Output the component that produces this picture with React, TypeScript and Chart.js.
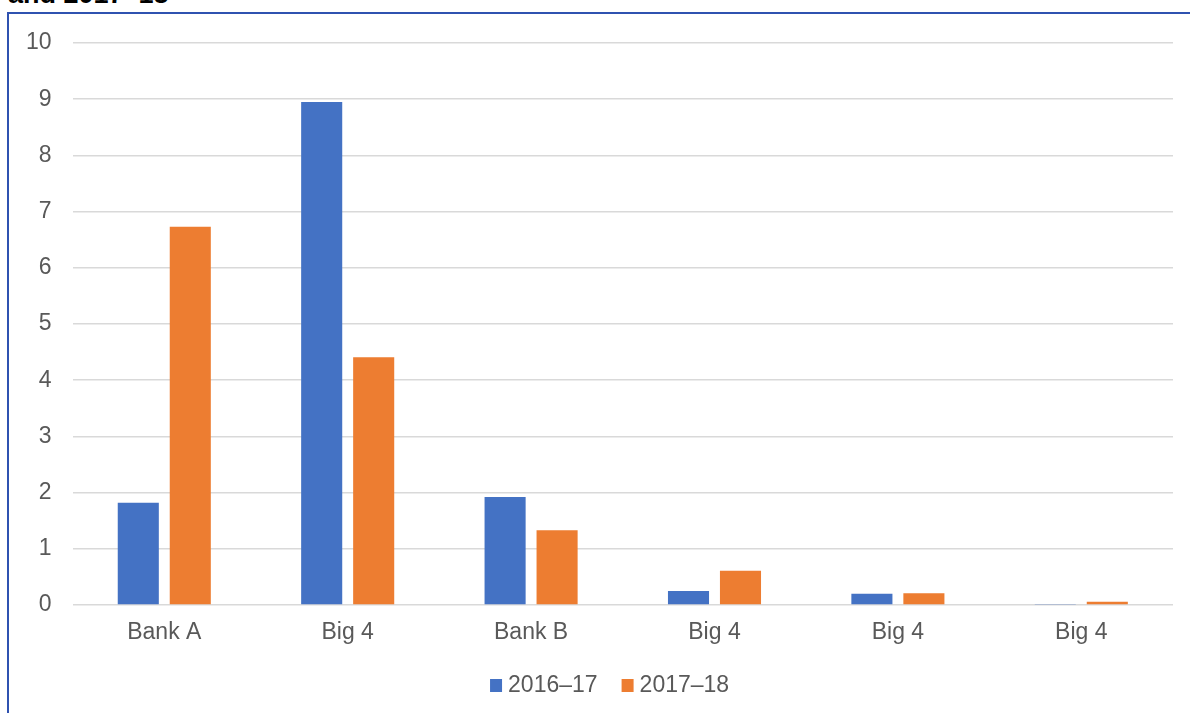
import React, { useEffect, useRef } from "react";
import { Chart, registerables } from "chart.js";

Chart.register(...registerables);

const categories = ["Bank A", "Big 4", "Bank B", "Big 4", "Big 4", "Big 4"];
const series2016 = [1.82, 8.95, 1.92, 0.25, 0.2, 0.02];
const series2017 = [6.73, 4.41, 1.33, 0.61, 0.21, 0.06];
const seriesLabels = ["2016–17", "2017–18"];
const seriesColors = ["#4472C4", "#ED7D31"];
const titleText = "and 2017–18";

const FONT = "'Liberation Sans', Arial, sans-serif";

const compactLegend = {
  id: "compactLegend",
  afterDraw(chart: any) {
    const ctx = chart.ctx as CanvasRenderingContext2D;
    const font = `23px ${FONT}`;
    ctx.save();
    ctx.font = font;
    const box = 12;
    const gap = 6;
    const itemGap = 24;
    const items = chart.data.datasets.map((ds: any) => ({
      text: ds.label as string,
      color: ds.backgroundColor as string,
      w: ctx.measureText(ds.label).width,
    }));
    const total =
      items.reduce((s: number, it: any) => s + box + gap + it.w, 0) + itemGap * (items.length - 1);
    const centerX = chart.chartArea.left + chart.chartArea.width * 0.488;
    const cy = chart.chartArea.bottom + 81;
    let x = centerX - total / 2;
    ctx.textBaseline = "middle";
    ctx.textAlign = "left";
    for (const it of items) {
      ctx.fillStyle = it.color;
      ctx.fillRect(x, cy - 7, box, 13);
      ctx.fillStyle = "#595959";
      ctx.fillText(it.text, x + box + gap, cy);
      x += box + gap + it.w + itemGap;
    }
    ctx.restore();
  },
};

export default function App() {
  const ref = useRef<HTMLCanvasElement | null>(null);

  useEffect(() => {
    if (!ref.current) return;
    const chart = new Chart(ref.current, {
      type: "bar",
      data: {
        labels: categories,
        datasets: [
          {
            label: seriesLabels[0],
            data: series2016,
            backgroundColor: seriesColors[0],
            categoryPercentage: 0.567,
            barPercentage: 0.79,
          },
          {
            label: seriesLabels[1],
            data: series2017,
            backgroundColor: seriesColors[1],
            categoryPercentage: 0.567,
            barPercentage: 0.79,
          },
        ],
      },
      options: {
        responsive: false,
        animation: false,
        devicePixelRatio: 1,
        layout: { padding: { left: 5, right: 17, top: 43, bottom: 63 } },
        scales: {
          x: {
            grid: { display: false, drawTicks: false },
            border: { display: false },
            ticks: { color: "#595959", font: { family: FONT, size: 23 }, padding: 14 },
            afterFit: (scale: any) => {
              scale.height = 45;
            },
          },
          y: {
            min: 0,
            max: 10,
            ticks: { stepSize: 1, color: "#595959", font: { family: FONT, size: 23 }, padding: 21 },
            grid: { color: "#d9d9d9", lineWidth: 1.5, drawTicks: false },
            border: { display: false },
          },
        },
        plugins: {
          legend: { display: false },
          tooltip: { enabled: false },
        },
      },
      plugins: [compactLegend],
    });
    return () => chart.destroy();
  }, []);

  return (
    <div style={{ position: "fixed", inset: 0, overflow: "hidden", background: "#fff" }}>
      <div
        style={{
          position: "absolute",
          left: 8,
          top: -19,
          fontFamily: FONT,
          fontWeight: "bold",
          fontSize: 27,
          lineHeight: "27px",
          color: "#000",
          whiteSpace: "nowrap",
        }}
      >
        {titleText}
      </div>
      <div
        style={{
          position: "absolute",
          left: 7,
          top: 12,
          width: 1250,
          height: 800,
          border: "2px solid #2F52B0",
          boxSizing: "border-box",
        }}
      />
      <canvas
        ref={ref}
        width={1190}
        height={713}
        style={{ position: "absolute", left: 0, top: 0, width: 1190, height: 713 }}
      />
    </div>
  );
}
